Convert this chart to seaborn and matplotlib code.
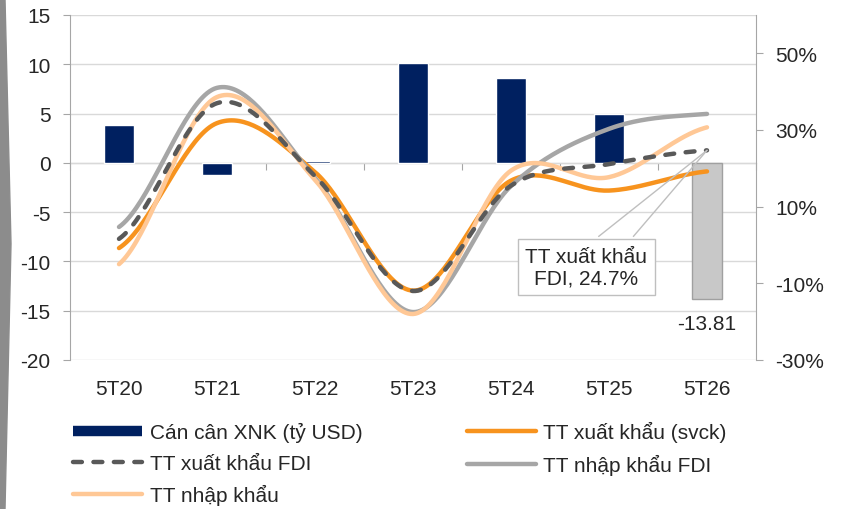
import numpy as np
import pandas as pd
import matplotlib
matplotlib.use('Agg')
import matplotlib.pyplot as plt
import seaborn as sns
from matplotlib.lines import Line2D
from matplotlib.patches import Polygon
from matplotlib.ticker import FuncFormatter

# Data
periods = ['5T20', '5T21', '5T22', '5T23', '5T24', '5T25', '5T26']
trade_balance = [3.8, -1.2, 0.2, 10.1, 8.6, 5.0, -13.81]      # ty USD, left axis
export_growth = [-0.8, 31.8, 19.0, -11.9, 16.8, 14.2, 19.2]    # %, right axis
fdi_export_growth = [1.6, 37.0, 18.0, -12.0, 15.5, 21.1, 24.7]
fdi_import_growth = [4.7, 41.0, 17.5, -17.5, 15.4, 30.3, 34.2]
import_growth = [-5.0, 38.6, 17.0, -18.0, 19.4, 17.7, 30.7]

NAVY = '#002060'
ORANGE = '#F7931E'
DARK = '#595959'
GREY = '#A6A6A6'
PEACH = '#FFC896'
AXIS = '#A6A6A6'
GRID = '#D9D9D9'
DASH = (0, (2.0, 2.6))


def smooth(vals, n=40):
    # Excel-style smoothed line (Catmull-Rom through the data points)
    p = np.asarray(vals, float)
    pp = np.concatenate([[p[0]], p, [p[-1]]])
    xs, ys = [], []
    t = np.linspace(0, 1, n, endpoint=False)
    for i in range(len(p) - 1):
        p0, p1, p2, p3 = pp[i:i + 4]
        y = 0.5 * (2 * p1 + (-p0 + p2) * t + (2 * p0 - 5 * p1 + 4 * p2 - p3) * t ** 2
                   + (-p0 + 3 * p1 - 3 * p2 + p3) * t ** 3)
        xs.append(i + t)
        ys.append(y)
    xs.append([len(p) - 1])
    ys.append([p[-1]])
    return np.concatenate(xs), np.concatenate(ys)


sns.set_style('white')
plt.rcParams['font.family'] = ['Liberation Sans', 'DejaVu Sans']
plt.rcParams['font.size'] = 15
plt.rcParams['axes.unicode_minus'] = False

fig = plt.figure(figsize=(8.48, 5.10), dpi=100)
ax = fig.add_axes([70 / 848, 1 - 361 / 510, 686 / 848, 345 / 510])

# left edge decoration
fig.patches.append(Polygon([(0, 1), (5 / 848, 1), (11 / 848, 0.52), (5 / 848, 0), (0, 0)],
                           closed=True, transform=fig.transFigure, color='#8C8C8C', zorder=0))

df = pd.DataFrame({'period': periods, 'balance': trade_balance})
bar_colors = [NAVY] * (len(periods) - 1) + ['#C8C8C8']
sns.barplot(data=df, x='period', y='balance', hue='period', palette=bar_colors,
            legend=False, width=0.31, saturation=1, ax=ax, zorder=2)
ax.patches[-1].set_edgecolor('#A0A0A0')
ax.patches[-1].set_linewidth(1)

ax.set_xlim(-0.5, len(periods) - 0.5)
ax.set_ylim(-20, 15)
ax.set_yticks(range(-20, 16, 5))
ax.yaxis.grid(True, color=GRID, lw=1)
ax.set_axisbelow(True)
ax.set_xlabel('')
ax.set_ylabel('')
for s in ['top', 'bottom', 'right']:
    ax.spines[s].set_visible(False)
ax.spines['left'].set_color(AXIS)
ax.tick_params(axis='y', length=5, color=AXIS, pad=9, labelsize=15)
ax.tick_params(axis='x', length=0, pad=14, labelsize=15)

# category axis drawn at zero
zero_loc = -ax.get_ylim()[0] / (ax.get_ylim()[1] - ax.get_ylim()[0])
sec = ax.secondary_xaxis(zero_loc)
sec.set_alignment('bottom')
sec.spines['bottom'].set_color('#A0A0A0')
sec.set_xticks(np.arange(-0.5, len(periods), 1))
sec.set_xticklabels([])
sec.tick_params(axis='x', length=5, color=AXIS, direction='out',
                labelbottom=False, labeltop=False)

ax.annotate(f'{trade_balance[-1]:.2f}', xy=(len(periods) - 1, trade_balance[-1]),
            xytext=(0, -11), textcoords='offset points', ha='center', va='top', fontsize=15)

# growth lines on right axis
ax2 = ax.twinx()
ax2.set_ylim(-30, 60)
ax2.set_yticks([-30, -10, 10, 30, 50])
ax2.yaxis.set_major_formatter(FuncFormatter(lambda v, _: f'{v:.0f}%'))
for s in ['top', 'bottom', 'left']:
    ax2.spines[s].set_visible(False)
ax2.spines['right'].set_color(AXIS)
ax2.tick_params(axis='y', length=5, color=AXIS, pad=9, labelsize=15)

series = [
    (export_growth, ORANGE, '-'),
    (fdi_import_growth, GREY, '-'),
    (import_growth, PEACH, '-'),
    (fdi_export_growth, DARK, DASH),
]
for vals, col, ls in series:
    xs, ys = smooth(vals)
    ax2.plot(xs, ys, color=col, lw=3.2, ls=ls, solid_capstyle='round',
             dash_capstyle='round', zorder=3)

# callout for FDI export growth
pt = (len(periods) - 1, fdi_export_growth[-1])
for dx in (-78, -53):
    ax2.annotate('', xy=pt, xytext=(dx, -62), textcoords='offset points',
                 arrowprops=dict(arrowstyle='-', color='#BFBFBF', lw=1, shrinkA=0, shrinkB=0))
ax2.annotate(f'TT xuất khẩu\nFDI, {fdi_export_growth[-1]}%', xy=pt, xytext=(-87, -84),
             textcoords='offset points', ha='center', va='center', fontsize=15,
             linespacing=1.15,
             bbox=dict(boxstyle='square,pad=0.36', fc='white', ec='#BFBFBF', lw=1))

handles = [
    Line2D([], [], color=NAVY, lw=7.5, solid_capstyle='butt'),
    Line2D([], [], color=DARK, lw=3.2, ls=DASH, dash_capstyle='round'),
    Line2D([], [], color=PEACH, lw=3.2, solid_capstyle='round'),
    Line2D([], [], color=ORANGE, lw=3.2, solid_capstyle='round'),
    Line2D([], [], color=GREY, lw=3.2, solid_capstyle='round'),
]
labels = ['Cán cân XNK (tỷ USD)', 'TT xuất khẩu FDI', 'TT nhập khẩu',
          'TT xuất khẩu (svck)', 'TT nhập khẩu FDI']
fig.legend(handles, labels, loc='upper left', bbox_to_anchor=(65 / 848, 1 - 414 / 510),
           ncol=2, frameon=False, fontsize=15, handlelength=3.3, handletextpad=0.38,
           labelspacing=0.55, columnspacing=5.0, borderaxespad=0)

fig.savefig('out.png', dpi=100)
